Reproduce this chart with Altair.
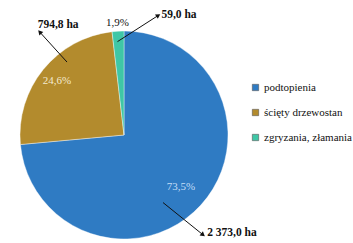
import altair as alt
import pandas as pd
import numpy as np

# ---- data ----
categories = ["podtopienia", "ścięty drzewostan", "zgryzania, złamania"]
areas_ha = [2373.0, 794.8, 59.0]
pct_labels = ["73,5%", "24,6%", "1,9%"]
area_labels = ["2 373,0 ha", "794,8 ha", "59,0 ha"]
colors = ["#2f7bc3", "#b38b2d", "#3fc7a6"]

# ---- layout (units of pie radius, centre at 0,0) ----
FONT = "Liberation Serif"
R_PX = 104
pct_radius = [0.74, 0.83, 1.08]
pct_colors = ["#c4def7", "#f3ead0", "#111111"]
arrow_start_ang = [150.0, 322.0, 356.0]
arrow_start_r = [0.75, 0.89, 0.90]
arrow_tip_x = [0.76, -0.81, 0.33]
arrow_tip_y = [-0.96, 0.99, 1.15]
label_x = [0.80, -0.83, 0.36]
label_y = [-0.94, 1.06, 1.15]

df = pd.DataFrame({"cat": categories, "val": areas_ha, "order": [0, 1, 2]})
df["cx"] = 0.0
df["cy"] = 0.0

tot = sum(areas_ha)
cum = np.cumsum([0] + areas_ha)
mid = [(cum[i] + cum[i + 1]) / 2 / tot * 2 * np.pi for i in range(3)]

pct_df = pd.DataFrame({
    "t": pct_labels,
    "x": [pct_radius[i] * np.sin(mid[i]) for i in range(3)],
    "y": [pct_radius[i] * np.cos(mid[i]) for i in range(3)],
    "c": pct_colors,
})

sx = [arrow_start_r[i] * np.sin(np.radians(arrow_start_ang[i])) for i in range(3)]
sy = [arrow_start_r[i] * np.cos(np.radians(arrow_start_ang[i])) for i in range(3)]
ang = [float(np.degrees(np.arctan2(arrow_tip_x[i] - sx[i], arrow_tip_y[i] - sy[i])) % 360) for i in range(3)]
arr_df = pd.DataFrame({
    "x": sx, "y": sy, "x2": arrow_tip_x, "y2": arrow_tip_y, "ang": ang,
    "lx": label_x, "ly": label_y, "t": area_labels,
})

W, H = 353, 243
CX, CY = 124, 135
xs = alt.Scale(domain=[-CX / R_PX, (W - CX) / R_PX], nice=False, zero=False)
ys = alt.Scale(domain=[-(H - CY) / R_PX, CY / R_PX], nice=False, zero=False)
X = lambda f: alt.X(f, type="quantitative", scale=xs, axis=None)
Y = lambda f: alt.Y(f, type="quantitative", scale=ys, axis=None)

pie = alt.Chart(df).mark_arc(outerRadius=R_PX, stroke="#ffffff", strokeWidth=0.4).encode(
    theta=alt.Theta("val:Q", stack=True),
    order=alt.Order("order:Q"),
    color=alt.Color("cat:N", scale=alt.Scale(domain=categories, range=colors),
                    sort=categories,
                    legend=alt.Legend(title=None, orient="none", legendX=250, legendY=82,
                                      symbolType="square", symbolSize=40,
                                      symbolStrokeColor="#555555", symbolStrokeWidth=0.6,
                                      labelFont=FONT, labelFontSize=11, labelLimit=200,
                                      labelColor="#111111", rowPadding=13, labelOffset=3)),
    x=X("cx"), y=Y("cy"),
)

pct = alt.Chart(pct_df).mark_text(font=FONT, fontSize=11).encode(
    x=X("x"), y=Y("y"), text="t:N", color=alt.Color("c:N", scale=None),
)

rules = alt.Chart(arr_df).mark_rule(color="#111111", strokeWidth=1).encode(
    x=X("x"), y=Y("y"), x2="x2:Q", y2="y2:Q",
)
heads = alt.Chart(arr_df).mark_point(shape="triangle-up", filled=True, color="#111111",
                                     size=28, opacity=1).encode(
    x=X("x2"), y=Y("y2"), angle=alt.Angle("ang:Q", scale=None),
)
labels = alt.Chart(arr_df).mark_text(font=FONT, fontSize=11.5, align="left",
                                     color="#111111", fontWeight="bold").encode(
    x=X("lx"), y=Y("ly"), text="t:N",
)

chart = alt.layer(pie, pct, rules, heads, labels).properties(
    width=W, height=H, padding=0, autosize=alt.AutoSizeParams(type="none"),
    background="#ffffff",
).configure_view(stroke=None)

chart.save("out.html", embed_options={"renderer": "svg", "actions": False})
